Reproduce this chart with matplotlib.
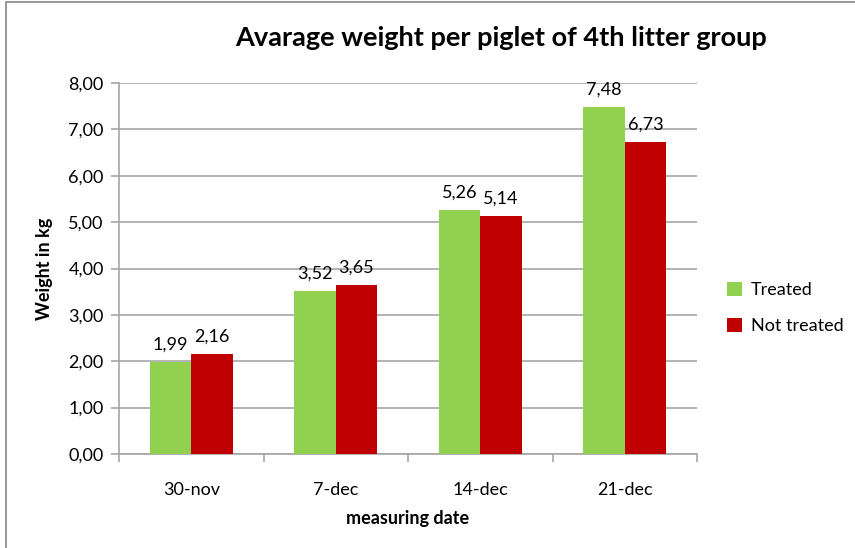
import matplotlib.pyplot as plt
import numpy as np
from matplotlib.patches import Rectangle

plt.rcParams['font.family'] = ['Lato', 'DejaVu Sans']

# data
dates = ["30-nov", "7-dec", "14-dec", "21-dec"]
treated = [1.99, 3.52, 5.26, 7.48]
not_treated = [2.16, 3.65, 5.14, 6.73]
yticks = [0, 1, 2, 3, 4, 5, 6, 7, 8]

green = "#92D050"
red = "#C00000"
grid_col = "#a6a6a6"

fig = plt.figure(figsize=(8.55, 5.48), dpi=100)
ax = fig.add_axes([119 / 855, 1 - 454 / 548, 578 / 855, 371 / 548])

# chart border
fig.patches.append(Rectangle((6 / 855, -0.1), 1.2, 1.1 - 2 / 548, transform=fig.transFigure,
                             fill=False, edgecolor="#868686", linewidth=1.2))

x = np.arange(len(dates))
w = 1 / 3.5
b1 = ax.bar(x - w / 2, treated, w, color=green, label="Treated", zorder=3)
b2 = ax.bar(x + w / 2, not_treated, w, color=red, label="Not treated", zorder=3)

for bars, vals in ((b1, treated), (b2, not_treated)):
    for r, v in zip(bars, vals):
        ax.text(r.get_x() + r.get_width() / 2, v + 0.2, f"{v:.2f}".replace(".", ","),
                ha="center", va="bottom", fontsize=13)

ax.set_xlim(-0.5, 3.5)
ax.set_ylim(0, 8)
ax.set_yticks(yticks)
ax.set_yticklabels([f"{t:.2f}".replace(".", ",") for t in yticks], fontsize=13)
ax.yaxis.grid(True, color=grid_col, linewidth=1.2, zorder=0)
ax.set_xticks(x)
ax.set_xticklabels(dates, fontsize=13)
ax.set_xticks(np.arange(-0.5, 4, 1), minor=True)
ax.tick_params(axis="x", which="major", length=0, pad=20)
ax.tick_params(axis="x", which="minor", length=6, color=grid_col, width=1.2)
ax.tick_params(axis="y", length=6, color=grid_col, width=1.2, pad=5)

for s in ("top", "right"):
    ax.spines[s].set_visible(False)
for s in ("left", "bottom"):
    ax.spines[s].set_color(grid_col)
    ax.spines[s].set_linewidth(1.2)

ax.set_ylabel("Weight in kg", fontsize=13, fontweight="bold", labelpad=11)
ax.set_xlabel("measuring date", fontsize=13, fontweight="bold", labelpad=9)

fig.text(501 / 855, 1 - 38 / 548, "Avarage weight per piglet of 4th litter group",
         ha="center", va="center", fontsize=19.5, fontweight="bold")

fig.legend(loc="center left", bbox_to_anchor=(711 / 855, 1 - 308 / 548), frameon=False,
           fontsize=13, handlelength=0.8, handleheight=0.8, labelspacing=1.1, handletextpad=0.5)

fig.savefig("out.png", dpi=100)
